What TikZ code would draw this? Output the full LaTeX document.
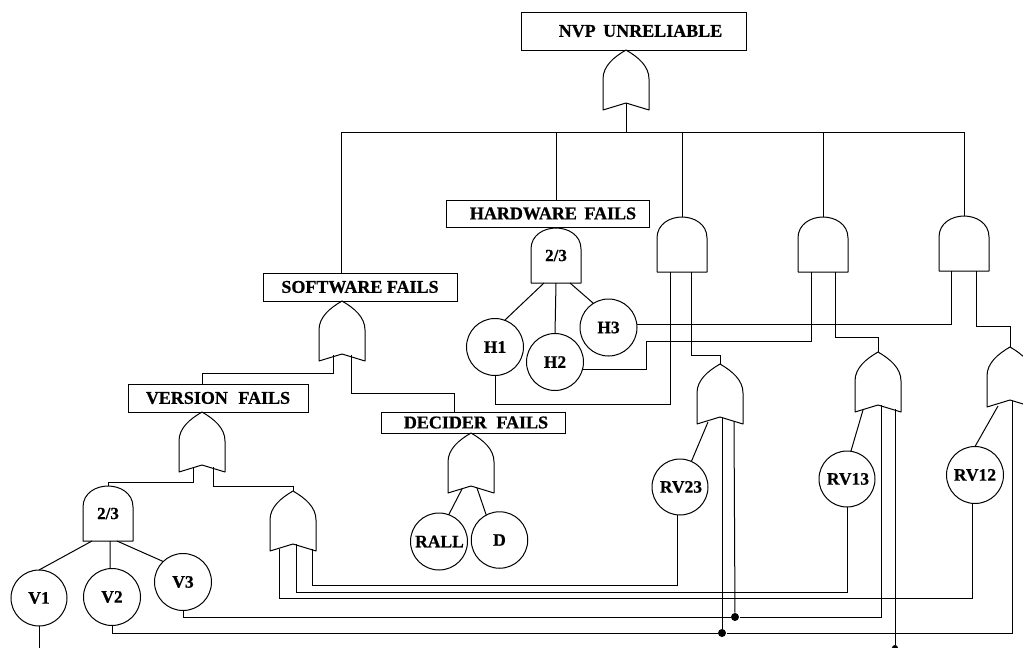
\documentclass[tikz,border=0pt]{standalone}
\usepackage{fontspec}
\setmainfont[BoldFeatures={FakeBold=0.6}]{Liberation Serif}
\usetikzlibrary{calc}
\newcommand{\lowered}[1]{\raisebox{-2pt}{#1}}
\newcommand{\orgate}[3]{% name, cx, top
  \begin{scope}[shift={(#2,#3)}]
    \draw[gateline] (0,0) .. controls (12,7) and (23,16) .. (23,29) -- (23,60) -- (0,53) -- (-23,60) -- (-23,29) .. controls (-23,16) and (-12,7) .. (0,0) -- cycle;
    \node[gatebody,minimum width=46pt,minimum height=60pt] (#1) at (0,30) {};
  \end{scope}}
\newcommand{\andgate}[4]{% name, cx, top, label
  \begin{scope}[shift={(#2,#3)}]
    \draw[gateline] (-25,55) -- (-25,21) .. controls (-25,7) and (-12,0) .. (0,0) .. controls (12,0) and (25,7) .. (25,21) -- (25,55) -- cycle;
    \node[gatebody,minimum width=50pt,minimum height=55pt] (#1) at (0,27.5) {\raisebox{-4pt}{#4}};
  \end{scope}}
\tikzset{
  x=1pt,y=-1pt,
  gateline/.style={line width=1pt,line join=round},
  gatebody/.style={inner sep=0pt,outer sep=0pt,font=\fontsize{17}{19}\bfseries},
  evt/.style={draw,line width=1pt,circle,inner sep=0pt,outer sep=0pt,minimum size=#1,font=\fontsize{17.5}{19}\bfseries},
  evt/.default=57pt,
  titlebox/.style={draw,line width=1pt,inner sep=0pt,outer sep=0pt,font=\fontsize{18}{20}\bfseries},
  wire/.style={line width=1pt},
  junction/.style={circle,fill=black,inner sep=0pt,minimum size=#1}
}
\begin{document}
\begin{tikzpicture}[wire]
\useasboundingbox (0,0) rectangle (1023,648);
\clip (0,0) rectangle (1023,648);
% top events
\node[titlebox,minimum width=225pt,minimum height=38pt] (NVP) at (633.5,31) {\hspace*{14pt}\lowered{NVP\hspace{3pt} UNRELIABLE}};
\node[titlebox,minimum width=203pt,minimum height=27pt] (HW) at (548,213.5) {\hspace*{10pt}\lowered{HARDWARE\hspace{3pt} FAILS}};
\node[titlebox,minimum width=194pt,minimum height=28pt] (SW) at (360,287) {SOFTWARE FAILS};
\node[titlebox,minimum width=180pt,minimum height=28pt] (VER) at (218,398) {VERSION\hspace{6pt} FAILS};
\node[titlebox,minimum width=184pt,minimum height=21pt] (DEC) at (473,422.5) {\hspace*{6pt}DECIDER\hspace{5pt} FAILS};
% gates
\orgate{gTop}{626}{50}
\orgate{gS}{342}{301}
\orgate{gV}{202}{412}
\orgate{gD}{471}{433}
\orgate{gL}{293}{491}
\orgate{gRa}{720}{364}
\orgate{gRb}{878}{352}
\orgate{gRc}{1010}{347}
\andgate{gHW}{556}{228}{2/3}
\andgate{gVot}{108}{486}{2/3}
\andgate{gA}{682}{217}{}
\andgate{gB}{823}{217}{}
\andgate{gC}{964}{216}{}
% basic events
\node[evt] (H1) at (495,347) {\lowered{H1}};
\node[evt] (H2) at (555,362) {\lowered{H2}};
\node[evt] (H3) at (608.5,327.5) {\lowered{H3}};
\node[evt=56pt] (V1) at (39,598) {\raisebox{-4pt}{V1}};
\node[evt] (V2) at (112,597) {\lowered{V2}};
\node[evt] (V3) at (183,582) {\lowered{V3}};
\node[evt] (RALL) at (439,541.5) {\hspace*{1pt}\raisebox{-3pt}{RALL}};
\node[evt=56.5pt] (D) at (499.5,540) {\lowered{D}};
\node[evt=56pt] (RV23) at (680,487) {\hspace*{2pt}\lowered{RV23}};
\node[evt=56pt] (RV13) at (847,479) {\hspace*{2pt}\lowered{RV13}};
\node[evt] (RV12) at (975,475) {RV12};
% named points
\coordinate (bus) at (626,132);
\coordinate (gTopn) at (626,103);
\coordinate (swIn) at (341,273);
\coordinate (hwIn) at (556,200);
\coordinate (verIn) at (202,384);
\coordinate (decIn) at (454,412);
\coordinate (gSa) at (333,355);
\coordinate (gSb) at (351,355);
\coordinate (gVa) at (193,467);
\coordinate (gVb) at (213,467);
\coordinate (gDa) at (462,489);
\coordinate (gDb) at (477,488);
\coordinate (gAa) at (670,272);
\coordinate (gAb) at (691,272);
\coordinate (gBa) at (811,272);
\coordinate (gBb) at (835,272);
\coordinate (gCa) at (951.5,271);
\coordinate (gCb) at (976.5,271);
\coordinate (gRaa) at (708,422);
\coordinate (gRab) at (722,418);
\coordinate (gRac) at (734,421);
\coordinate (gRba) at (863,410);
\coordinate (gRbb) at (881,405);
\coordinate (gRbc) at (895,409);
\coordinate (gRca) at (998,406);
\coordinate (gRcb) at (1012,401);
\coordinate (gLa) at (279,549);
\coordinate (gLb) at (296,544);
\coordinate (gLc) at (312,549);
\coordinate (hwa) at (544,283);
\coordinate (hwb) at (556,283);
\coordinate (hwc) at (570,283);
\coordinate (vota) at (92,541);
\coordinate (votb) at (110,541);
\coordinate (votc) at (117,541);
\coordinate (v1End) at (39,648);
\node[junction=8pt] (dotA) at (722,633) {};
\node[junction=8pt] (dotB) at (735,617) {};
\node[junction=6pt] (dotC) at (895,648) {};
% connectors
\draw (gTopn) -- (bus);
\draw (bus) -| (swIn);
\draw (bus) -| (hwIn);
\draw (bus) -| (gA.north);
\draw (bus) -| (gB.north);
\draw (bus) -| (gC.north);
\draw (gSa) -- ++(0,18) -| (verIn);
\draw (gSb) -- ++(0,38) -| (decIn);
\draw (gVa) -- ++(0,15) -| (gVot.north);
\draw (gVb) -- ++(0,19) -| (gL.north);
\draw (gDa) -- (RALL.70);
\draw (gDb) -- (D.118);
\draw (hwa) -- (H1.70);
\draw (hwb) -- (H2.north);
\draw (hwc) -- (H3.122);
\draw (vota) -- (V1.north);
\draw (votb) -- (V2.94);
\draw (votc) -- (V3.134);
\draw (gAa) -- ++(0,132) -| (H1.south);
\draw (gAb) -- ++(0,83) -| (gRa.north);
\draw (gBa) -- ++(0,69) -- ++(-165,0) |- (H2.-16);
\draw (gBb) -- ++(0,65) -| (gRb.north);
\draw (gCa) |- (H3.7);
\draw (gCb) -- ++(0,55) -| (gRc.north);
\draw (gRaa) -- (RV23.66);
\draw (gRba) -- (RV13.82);
\draw (gRca) -- (RV12.north);
\draw (gRab) -- (dotA);
\draw (gRac) -- (dotB);
\draw (V3.south) |- (dotB);
\draw (dotB) -| (gRbb);
\draw (V2.south) |- (dotA);
\draw (dotA) -| (gRcb);
\draw (gRbc) -- (dotC);
\draw (V1.south) -- (v1End);
\draw (RV23.264) -- ++(0,71) -| (gLc);
\draw (RV13.south) -- ++(0,85) -| (gLb);
\draw (RV12.264) -- ++(0,95) -| (gLa);
\end{tikzpicture}
\end{document}
